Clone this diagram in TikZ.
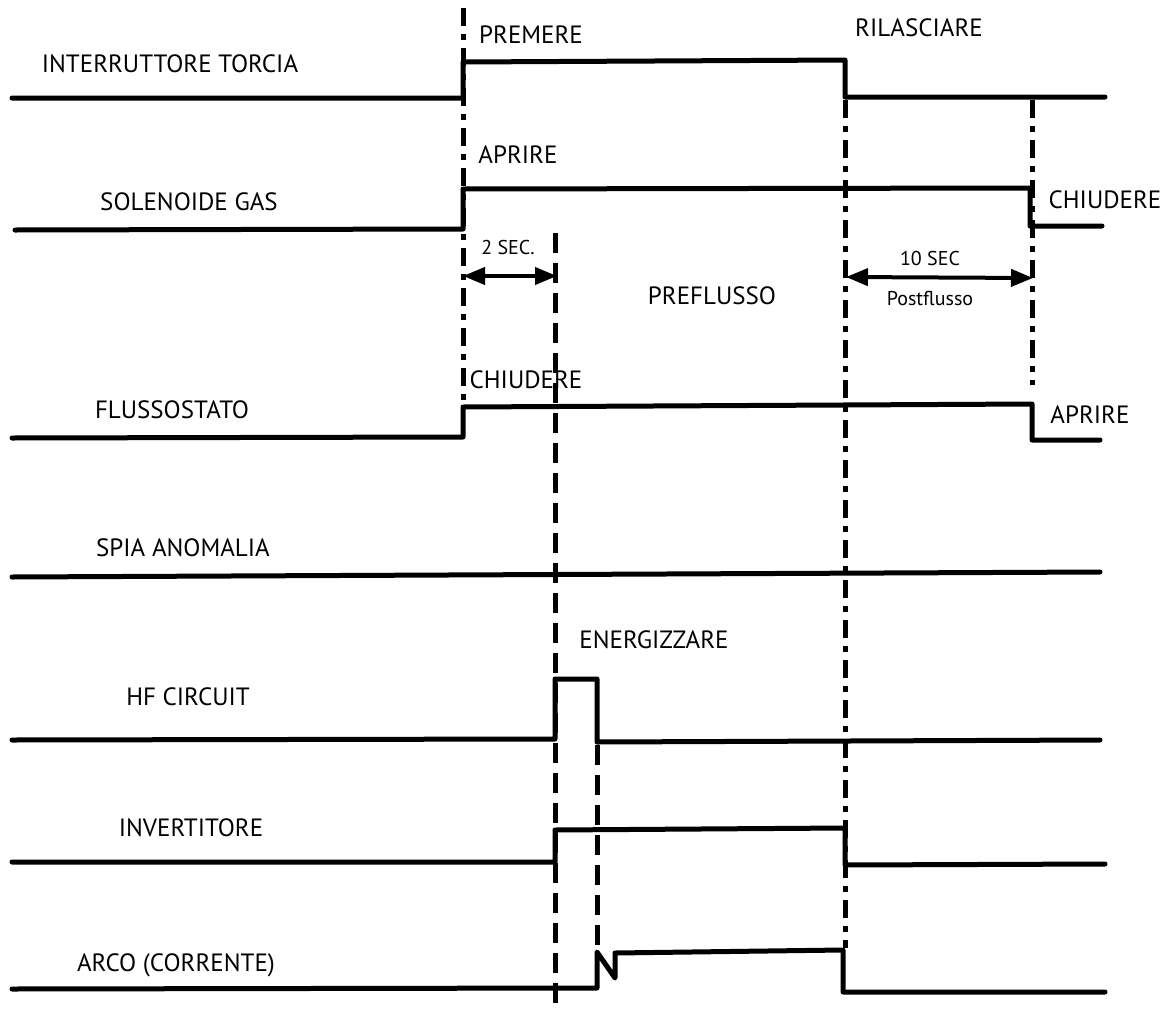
\documentclass[tikz,border=0pt]{standalone}
\usepackage{fontspec}
\setmainfont{PT Sans}
\usetikzlibrary{arrows.meta}
\begin{document}
\begin{tikzpicture}[x=1pt,y=-1pt,
  sig/.style={line width=5pt, line join=round, line cap=round},
  guide/.style={line width=5pt, dash pattern=on 20pt off 10pt},
  guidedot/.style={line width=5pt, dash pattern=on 18pt off 8pt on 6pt off 8pt},
  lbl/.style={font=\fontsize{25}{30}\selectfont, inner sep=0pt},
  small/.style={font=\fontsize{20}{24}\selectfont, inner sep=0pt},
  span/.style={line width=4pt, {Triangle[length=22pt,width=17pt]}-{Triangle[length=22pt,width=17pt]}}]
\useasboundingbox (0,0) rectangle (1171,1015);

% event markers
\draw[guidedot] (463,8) -- (463,405);
\draw[guide] (555,233) -- (555,1013);
\draw[guide] (597,745) -- (597,950);
\draw[guidedot] (845,100) -- (845,948);
\draw[guidedot] (1032,100) -- (1032,385);

% signal traces
\draw[sig] (12,98) -- (463,98) -- (463,62) -- (845,60) -- (845,97) -- (1105,97);
\draw[sig] (15,230) -- (463,229) -- (463,189) -- (1030,188) -- (1030,226) -- (1102,226);
\draw[sig] (12,438) -- (463,437) -- (463,407) -- (1032,404) -- (1032,440) -- (1100,440);
\draw[sig] (12,577) -- (1100,572);
\draw[sig] (12,740) -- (555,739) -- (555,679) -- (597,679) -- (597,742) -- (1100,740);
\draw[sig] (12,862) -- (555,862) -- (555,830) -- (845,828) -- (845,865) -- (1105,864);
\draw[sig] (12,989) -- (597,988) -- (597,952) -- (615,978) -- (615,953) -- (843,950) -- (843,992) -- (1105,992);

% signal names
\node[lbl] (n1) at (170,64) {INTERRUTTORE TORCIA};
\node[lbl] (n2) at (189,202) {SOLENOIDE GAS};
\node[lbl] (n3) at (172,410) {FLUSSOSTATO};
\node[lbl] (n4) at (183,548) {SPIA ANOMALIA};
\node[lbl] (n5) at (188,697) {HF CIRCUIT};
\node[lbl] (n6) at (191,828) {INVERTITORE};
\node[lbl] (n7) at (176,965) {ARCO (CORRENTE)};

% state annotations
\node[lbl] (premere) at (531,35) {PREMERE};
\node[lbl] (rilasciare) at (919,28) {RILASCIARE};
\node[lbl] (aprire1) at (518,155) {APRIRE};
\node[lbl] (chiudere1) at (1105,200) {CHIUDERE};
\node[lbl] (preflusso) at (712,296) {PREFLUSSO};
\node[lbl] (chiudere2) at (526,380) {CHIUDERE};
\node[lbl] (aprire2) at (1090,415) {APRIRE};
\node[lbl] (energ) at (654,640) {ENERGIZZARE};

% timing spans
\coordinate (pa) at (463,276);
\coordinate (pb) at (557,276);
\coordinate (qa) at (846,277);
\coordinate (qb) at (1033,278);
\draw[span] (pa) -- (pb);
\draw[span] (qa) -- (qb);
\node[small] (t2) at (508,247) {2 SEC.};
\node[small] (t10) at (930,258) {10 SEC};
\node[small] (post) at (930,298) {Postflusso};
\end{tikzpicture}
\end{document}
